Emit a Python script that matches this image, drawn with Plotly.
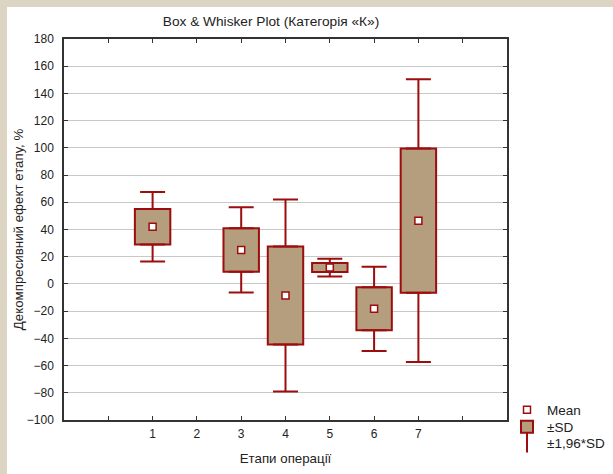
import plotly.graph_objects as go

# ---- data ----
stages = [1, 3, 4, 5, 6, 7]
means = [42, 25, -8.5, 12, -18.3, 46.5]
sds = [13, 16, 36, 3.3, 15.8, 53]
x_tick_vals = [0, 1, 2, 3, 4, 5, 6, 7, 8]
x_tick_text = ["", "1", "2", "3", "4", "5", "6", "7", ""]
y_tick_vals = list(range(-100, 181, 20))

# ---- styling ----
DARK_RED = "#9c0d0d"
TAN = "#b59e7e"
BEIGE = "#ddd5c3"
FONT = "Liberation Sans, Arial, sans-serif"

W, H = 613, 474
ML, MR, MT, MB = 64, 106, 39, 54
PW, PH = W - ML - MR, H - MT - MB


def px_x(px):
    return (px - ML) / PW


def px_y(py):
    return (H - MB - py) / PH


box_base = [m - s for m, s in zip(means, sds)]
box_size = [2 * s for s in sds]
whisk_x = stages + stages
whisk_y = [m + s for m, s in zip(means, sds)] + [m - s for m, s in zip(means, sds)]
up_ext = [1.96 * s - s for s in sds] + [0] * len(sds)
down_ext = [0] * len(sds) + [1.96 * s - s for s in sds]

fig = go.Figure()

fig.add_trace(go.Scatter(
    x=stages, y=means, mode="markers", name="Mean", legend="legend",
    marker=dict(symbol="square", size=7, color="white",
                line=dict(color=DARK_RED, width=1.5)),
))

fig.add_trace(go.Bar(
    x=stages, y=box_size, base=box_base, name="±SD", width=0.8, legend="legend2",
    marker=dict(color=TAN, line=dict(color=DARK_RED, width=2)),
))

fig.add_trace(go.Scatter(
    x=[None], y=[None], mode="markers", name="±1,96*SD", legend="legend3",
    marker=dict(symbol="line-ns", size=14, color=DARK_RED,
                line=dict(color=DARK_RED, width=2)),
))

fig.add_trace(go.Scatter(
    x=whisk_x, y=whisk_y, mode="markers", showlegend=False,
    marker=dict(size=1, color="rgba(0,0,0,0)"),
    error_y=dict(type="data", symmetric=False, array=up_ext,
                 arrayminus=down_ext, color=DARK_RED, thickness=2, width=12.5),
))

legend_common = dict(x=px_x(507), xanchor="left", yanchor="middle",
                     bgcolor="rgba(0,0,0,0)", font=dict(size=13.5, color="#222222"),
                     itemwidth=30)

fig.update_layout(
    width=W, height=H,
    margin=dict(l=ML, r=MR, t=MT, b=MB, pad=0, autoexpand=False),
    paper_bgcolor="white", plot_bgcolor="white",
    font=dict(family=FONT, size=12, color="#222222"),
    barmode="overlay",
    title=dict(text="Box & Whisker Plot (Категорія «К»)", x=271 / W, xref="container",
               xanchor="center", y=1 - 21 / H, yref="container", yanchor="middle",
               font=dict(size=13.7, color="#222222")),
    showlegend=True,
    legend=dict(y=px_y(410), **legend_common),
    legend2=dict(y=px_y(427), **legend_common),
    legend3=dict(y=px_y(443), **legend_common),
    shapes=[
        dict(type="rect", xref="paper", yref="paper", layer="below",
             x0=px_x(0), x1=px_x(7), y0=px_y(H), y1=px_y(0),
             fillcolor=BEIGE, line=dict(width=0)),
        dict(type="rect", xref="paper", yref="paper", layer="below",
             x0=px_x(0), x1=px_x(W), y0=px_y(7), y1=px_y(0),
             fillcolor=BEIGE, line=dict(width=0)),
    ],
)

fig.update_xaxes(
    range=[-1, 9], tickmode="array", tickvals=x_tick_vals, ticktext=x_tick_text,
    ticks="inside", ticklen=4, tickcolor="#333333", tickwidth=1,
    showline=True, linecolor="#333333", linewidth=1.5, mirror="ticks",
    showgrid=False, zeroline=False, ticklabelstandoff=2,
    title=dict(text="Етапи операції", standoff=14, font=dict(size=13.3)),
)

fig.update_yaxes(
    range=[-100, 180], tickmode="array", tickvals=y_tick_vals,
    ticks="inside", ticklen=4, tickcolor="#333333", tickwidth=1,
    showline=True, linecolor="#333333", linewidth=1.5, mirror="ticks",
    showgrid=True, gridcolor="#c8c8c8", gridwidth=1, zeroline=False,
    ticklabelstandoff=6,
    title=dict(text="Декомпресивний ефект етапу, %", standoff=0, font=dict(size=13.3)),
)

fig.write_html("out.html", config={"displayModeBar": False},
               post_script="document.body.style.margin='0';")
